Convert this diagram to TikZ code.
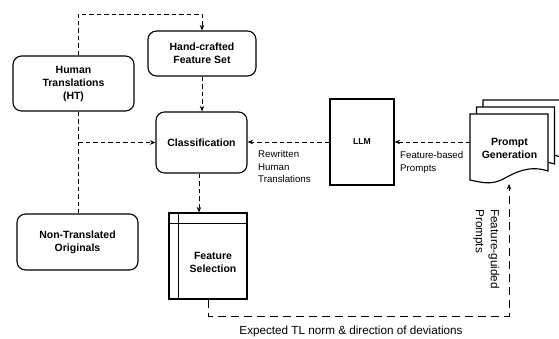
\documentclass[tikz,border=0pt]{standalone}
\usepackage{fontspec}
\setmainfont{Liberation Sans}
\usetikzlibrary{arrows.meta}
\begin{document}
\begin{tikzpicture}[x=1pt,y=-1pt,
  box/.style={draw, line width=1.15pt, rounded corners=8.5pt, align=center, inner sep=0pt,
    font=\fontsize{10.5}{13}\selectfont\bfseries},
  sqbox/.style={draw, line width=1.15pt, align=center, inner sep=0pt},
  bfont/.style={font=\fontsize{10.5}{13}\selectfont\bfseries, align=center, inner sep=0pt},
  lbl/.style={font=\fontsize{9.7}{12.6}\selectfont, align=left, inner sep=0pt},
  biglbl/.style={font=\fontsize{11.7}{15}\selectfont, align=left, inner sep=0pt},
  dsh/.style={line width=0.95pt, dash pattern=on 4.5pt off 3pt},
  dshlong/.style={line width=0.95pt, dash pattern=on 8.5pt off 4.5pt},
  arr/.style={-{Stealth[length=5.5pt,width=4.5pt]}},
  docshape/.style={line width=1.15pt, fill=white, draw}
]
\useasboundingbox (0,0) rectangle (559,338);

% nodes
\node[box, minimum width=121pt, minimum height=55pt] (ht) at (73.5,83.5) {Human\\Translations\\(HT)};
\node[box, minimum width=108pt, minimum height=45pt] (hfs) at (202,53.5) {Hand-crafted\\Feature Set};
\node[box, minimum width=91pt, minimum height=61pt] (cls) at (201.5,142.5) {Classification};
\node[box, minimum width=121pt, minimum height=56pt] (nto) at (77.5,242) {Non-Translated\\Originals};
\node[sqbox, minimum width=78pt, minimum height=86pt] (fs) at (208,256) {};
\draw[line width=1.15pt] ([xshift=10pt]fs.north west) -- ([xshift=10pt]fs.south west);
\draw[line width=1.15pt] ([yshift=-11pt]fs.north west) -- ([yshift=-11pt]fs.north east);
\node[bfont] (fstext) at (213,262) {Feature\\Selection};
\node[sqbox, minimum width=64pt, minimum height=86pt, font=\fontsize{8.6}{10}\selectfont\bfseries] (llm) at (362,142) {LLM};

% prompt generation document stack
\foreach \dx/\dy in {13/-14, 6.5/-7, 0/0} {
  \begin{scope}[shift={(\dx,\dy)}]
    \draw[docshape] (470,114) -- (548,114) -- (548,171)
      .. controls (530,165) and (516,172) .. (505,178)
      .. controls (492,186) and (480,182) .. (470,180) -- cycle;
  \end{scope}
}
\node[bfont, minimum width=78pt] (pg) at (509.5,148.5) {Prompt\\Generation};

% coordinates
\coordinate (tc) at (78,14);
\coordinate (bc) at (509,316);
\coordinate (pgb) at (509,184);

% connectors
\draw[dsh, arr] (ht.north -| tc) -- (tc) -| (hfs.north);
\draw[dsh, arr] (hfs.south) -- (hfs.south |- cls.north);
\draw[dsh] (ht.south -| tc) -- (nto.north -| tc);
\draw[dsh, arr] (cls.west -| tc) -- (cls.west);
\draw[dsh, arr] ([xshift=-2.5pt]cls.south) -- ([xshift=-2.5pt]cls.south |- fs.north);
\draw[dsh, arr] (llm.west) -- (llm.west -| cls.east);
\draw[dsh, arr] (llm -| pg.west) -- (llm.east);
\draw[dshlong, arr] (fs.south) |- (bc) -- (pgb);

% labels
\node[lbl, anchor=north west] (rwl) at (258,150.5) {Rewritten\\Human\\Translations};
\node[lbl, anchor=north west] (fbl) at (400,151.3) {Feature-based\\Prompts};
\node[biglbl, anchor=base] (expl) at (351,334) {Expected TL norm \& direction of deviations};
\node[biglbl, rotate=-90] (fgl) at (486.5,249) {Feature-guided\\Prompts};
\end{tikzpicture}
\end{document}
